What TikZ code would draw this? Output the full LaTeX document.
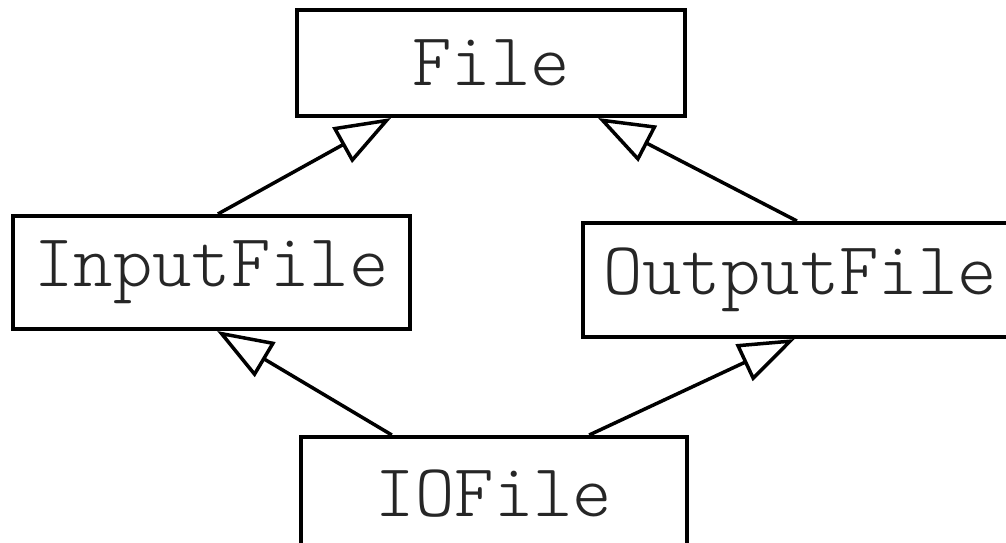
\documentclass[tikz,border=0pt]{standalone}
\usepackage{fontspec}
\setmonofont{Latin Modern Mono Light}
\usetikzlibrary{arrows.meta,calc}
\begin{document}
\begin{tikzpicture}[x=1pt,y=-1pt,
  classbox/.style={draw=black, line width=4pt, fill=white, inner sep=0pt,
    font=\fontsize{75}{80}\selectfont\ttfamily, text=black!85},
  inherit/.style={line width=3.5pt,
    -{Triangle[open, length=56pt, width=40pt, line width=3.5pt]}}]
  \useasboundingbox (0,0) rectangle (1006,543);
  \begin{scope}
    \clip (0,0) rectangle (1006,543);
    \node[classbox, minimum width=388pt, minimum height=106pt] (file) at (491,63) {File};
    \node[classbox, minimum width=397pt, minimum height=113pt] (input) at (211.5,272.5) {InputFile};
    \node[classbox, minimum width=434pt, minimum height=114pt] (output) at (800,280) {OutputFile};
    \node[classbox, minimum width=386pt, minimum height=114pt] (io) at (494,494) {IOFile};
    % generalisation arrows
    \draw[inherit] ($(input.north west)!0.516!(input.north east)$) -- ($(file.south west)!0.245!(file.south east)$);
    \draw[inherit] ($(output.north west)!0.493!(output.north east)$) -- ($(file.south west)!0.773!(file.south east)$);
    \draw[inherit] ($(io.north west)!0.238!(io.north east)$) -- ($(input.south west)!0.514!(input.south east)$);
    \draw[inherit] ($(io.north west)!0.744!(io.north east)$) -- ($(output.south west)!0.488!(output.south east)$);
  \end{scope}
\end{tikzpicture}
\end{document}
